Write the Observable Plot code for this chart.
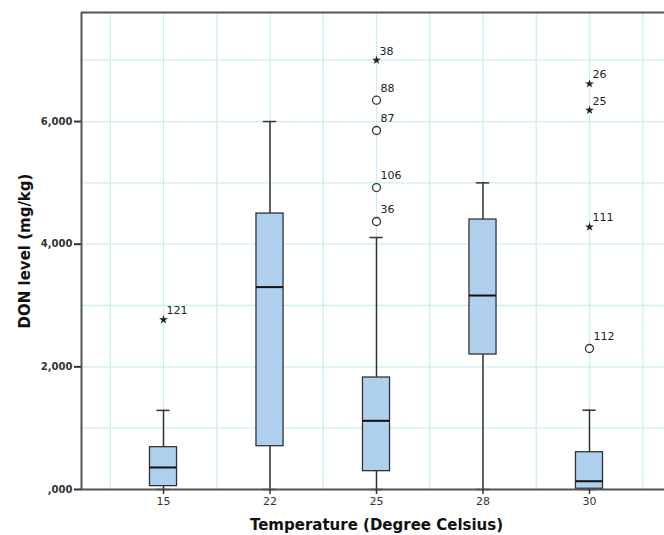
<!DOCTYPE html>
<html>
<head>
<meta charset="utf-8">
<script src="https://cdn.jsdelivr.net/npm/d3@7"></script>
<script src="https://cdn.jsdelivr.net/npm/@observablehq/plot@0.6"></script>
<style>
  html, body { margin: 0; padding: 0; background: #fff; overflow: hidden; }
  #chart { width: 664px; height: 535px; overflow: hidden; }
  #chart svg { max-width: none !important; display: block; }
</style>
</head>
<body>
<div id="chart"></div>
<script>
// ---- data ----
const temperatures = ["15", "22", "25", "28", "30"];
const whiskerLow  = [0, 0, 0, 0, 0];
const q1          = [55, 706, 299, 2201, 12];
const medians     = [359, 3300, 1120, 3163, 135];
const q3          = [690, 4500, 1826, 4402, 608];
const whiskerHigh = [1290, 6000, 4109, 5000, 1293];

// outliers: category, value, case label, kind
const outlierCat   = ["15", "25", "25", "25", "25", "25", "30", "30", "30", "30"];
const outlierValue = [2767, 7000, 6348, 5854, 4924, 4370, 6615, 6185, 4283, 2299];
const outlierLabel = ["121", "38", "88", "87", "106", "36", "26", "25", "111", "112"];
const outlierKind  = ["extreme", "extreme", "outlier", "outlier", "outlier", "outlier", "extreme", "extreme", "extreme", "outlier"];

const yTicks = [0, 2000, 4000, 6000];
const yGrid = [0, 1000, 2000, 3000, 4000, 5000, 6000, 7000];

// ---- derived tables ----
const boxes = temperatures.map((t, i) => ({
  t, i, lo: whiskerLow[i], q1: q1[i], med: medians[i], q3: q3[i], hi: whiskerHigh[i]
}));
const outliers = outlierValue.map((v, k) => ({
  i: temperatures.indexOf(outlierCat[k]), v, label: outlierLabel[k], kind: outlierKind[k]
}));
const xGrid = d3.range(-0.5, temperatures.length, 0.5);

const boxHalf = 0.127;
const capHalf = 0.062;
const grid = "#cdeef0";
const axisCol = "#555";
const font = "DejaVu Sans, sans-serif";

const plot = Plot.plot({
  width: 672,
  height: 535,
  marginLeft: 81,
  marginRight: 1,
  marginTop: 12,
  marginBottom: 46,
  style: { fontFamily: font, background: "#fff", maxWidth: "none" },
  x: {
    type: "linear",
    domain: [-0.77, temperatures.length - 1 + 0.77],
    axis: null
  },
  y: {
    domain: [0, 7778],
    axis: null
  },
  marks: [
    // grid
    Plot.ruleY(yGrid, { stroke: grid, strokeWidth: 1.3 }),
    Plot.ruleX(xGrid, { stroke: grid, strokeWidth: 1.3 }),
    // frame: top border
    Plot.ruleY([7778], { stroke: axisCol, strokeWidth: 2 }),
    // whiskers
    Plot.ruleX(boxes, { x: "i", y1: "lo", y2: "hi", stroke: "#333", strokeWidth: 1.5 }),
    // caps
    Plot.ruleY(boxes, { y: "hi", x1: d => d.i - capHalf, x2: d => d.i + capHalf, stroke: "#333", strokeWidth: 1.5 }),
    Plot.ruleY(boxes, { y: "lo", x1: d => d.i - capHalf, x2: d => d.i + capHalf, stroke: "#333", strokeWidth: 1.5 }),
    // boxes
    Plot.rect(boxes, {
      x1: d => d.i - boxHalf, x2: d => d.i + boxHalf, y1: "q1", y2: "q3",
      fill: "#aecfee", stroke: "#333", strokeWidth: 1.3
    }),
    // medians
    Plot.ruleY(boxes, { y: "med", x1: d => d.i - boxHalf, x2: d => d.i + boxHalf, stroke: "#111", strokeWidth: 2 }),
    // outliers
    Plot.dot(outliers.filter(d => d.kind === "outlier"), {
      x: "i", y: "v", r: 4, fill: "#fff", stroke: "#333", strokeWidth: 1.3
    }),
    Plot.dot(outliers.filter(d => d.kind === "extreme"), {
      x: "i", y: "v", symbol: "star", r: 2.8, fill: "#222", stroke: "none"
    }),
    Plot.text(outliers.filter(d => d.kind === "outlier"), {
      x: "i", y: "v", text: "label", dx: 4, dy: -12, textAnchor: "start",
      fontSize: 11, fill: "#222", fontFamily: font
    }),
    Plot.text(outliers.filter(d => d.kind === "extreme"), {
      x: "i", y: "v", text: "label", dx: 3, dy: -9, textAnchor: "start",
      fontSize: 11, fill: "#222", fontFamily: font
    }),
    // axes lines
    Plot.ruleY([0], { stroke: axisCol, strokeWidth: 2 }),
    Plot.ruleX([-0.77], { stroke: axisCol, strokeWidth: 2 }),
    // y axis ticks + labels
    Plot.axisY(yTicks, {
      tickSize: 7, tickPadding: 2, stroke: "#333", strokeWidth: 2,
      tickFormat: d => d === 0 ? ",000" : d3.format(",")(d),
      fontSize: 10, fontWeight: "bold", fill: "#333",
      label: null
    }),
    // x axis ticks + labels
    Plot.axisX(d3.range(temperatures.length), {
      tickSize: 5, tickPadding: 3, stroke: "#333", strokeWidth: 1.5,
      tickFormat: i => temperatures[i],
      fontSize: 11, fill: "#333",
      label: null
    }),
    // axis titles
    Plot.text(["Temperature (Degree Celsius)"], {
      frameAnchor: "bottom", textAnchor: "middle", dy: 40, fontSize: 15, fontWeight: "bold", fill: "#111",
      fontFamily: font
    }),
    Plot.text(["DON level (mg/kg)"], {
      frameAnchor: "left", textAnchor: "middle", dx: -56, rotate: -90, fontSize: 15, fontWeight: "bold", fill: "#111",
      fontFamily: font
    })
  ]
});
document.getElementById("chart").appendChild(plot);
</script>
</body>
</html>
